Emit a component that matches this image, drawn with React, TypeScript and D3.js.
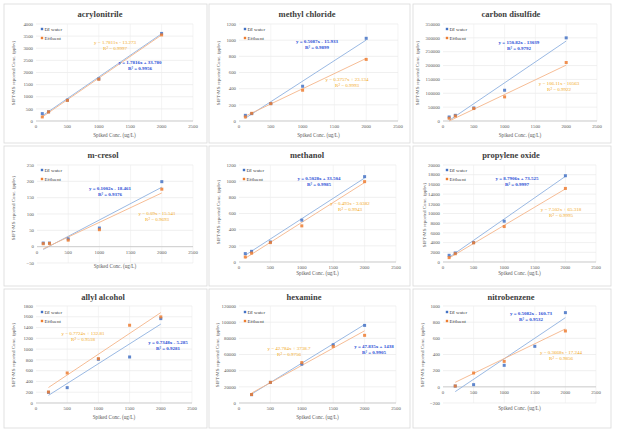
import React from "react";
import * as d3 from "d3";

// ---------- data ----------
const titles = ["acrylonitrile", "methyl chloride", "carbon disulfide", "m-cresol", "methanol", "propylene oxide", "allyl alcohol", "hexamine", "nitrobenzene"];
const seriesNames = ["DI water", "Effluent"];
const xTickValues = [0, 500, 1000, 1500, 2000, 2500];

const xSpikeA = [100, 200, 500, 1000, 2000];
const xSpikeB = [200, 500, 1000, 1500, 2000];
const xSpikeNitroEff = [200, 500, 1000, 2000];

const acryDI = [305, 380, 860, 1736, 3611];
const acryEff = [167, 375, 850, 1720, 3550];
const mechDI = [70, 91, 215, 430, 1023];
const mechEff = [50, 95, 215, 381, 762];
const csDI = [14500, 20500, 47000, 111000, 300000];
const csEff = [10000, 18000, 45000, 87000, 211000];
const cresDI = [11, 11, 24, 57, 199];
const cresEff = [9, 10, 20, 52, 176];
const methDI = [104, 132, 248, 518, 1056];
const methEff = [62, 110, 240, 447, 994];
const poDI = [1380, 1860, 4000, 8414, 17790];
const poEff = [900, 1700, 3950, 7310, 15170];
const allylDI = [198, 285, 811, 854, 1566];
const allylEff = [204, 557, 823, 1443, 1598];
const hexDI = [10300, 25500, 48000, 72000, 96000];
const hexEff = [10500, 25500, 50000, 70000, 83700];
const nitroDI = [10, 27, 266, 501, 918];
const nitroEff = [10, 171, 315, 691];

const slopesDI = [1.7816, 0.5087, 150.82, 0.1002, 0.5028, 8.7906, 0.7348, 47.835, 0.5082];
const interceptsDI = [33.78, -15.933, -13039, -18.461, 33.504, 73.525, -5.285, 1438, -160.73];
const slopesEff = [1.7811, 0.3757, 106.11, 0.09, 0.493, 7.502, 0.7724, 42.784, 0.3668];
const interceptsEff = [-13.273, 23.134, -10563, -15.541, -3.0382, 65.318, 132.81, 3738.7, -17.244];
const eqDI = ["y = 1.7816x + 33.780", "y = 0.5087x - 15.933", "y = 150.82x - 13039", "y = 0.1002x - 18.461", "y = 0.5028x + 33.504", "y = 8.7906x + 73.525", "y = 0.7348x - 5.285", "y = 47.835x + 1438", "y = 0.5082x - 160.73"];
const r2DI = ["R² = 0.9956", "R² = 0.9899", "R² = 0.9792", "R² = 0.9376", "R² = 0.9985", "R² = 0.9997", "R² = 0.9281", "R² = 0.9905", "R² = 0.9532"];
const eqEff = ["y = 1.7811x - 13.273", "y = 0.3757x + 23.134", "y = 106.11x - 10563", "y = 0.09x - 15.541", "y = 0.493x - 3.0382", "y = 7.502x + 65.318", "y = 0.7724x + 132.81", "y = 42.784x + 3738.7", "y = 0.3668x - 17.244"];
const r2Eff = ["R² = 0.9997", "R² = 0.9993", "R² = 0.9922", "R² = 0.9693", "R² = 0.9943", "R² = 0.9995", "R² = 0.9518", "R² = 0.9756", "R² = 0.9856"];

const yDomains: [number, number][] = [[0, 4000], [0, 1200], [0, 350000], [-50, 250], [0, 1200], [0, 20000], [0, 1800], [0, 120000], [-200, 1000]];
const ySteps = [500, 200, 50000, 50, 200, 2000, 200, 20000, 200];

const xsDI = [xSpikeA, xSpikeA, xSpikeA, xSpikeA, xSpikeA, xSpikeA, xSpikeB, xSpikeB, xSpikeB];
const xsEff = [xSpikeA, xSpikeA, xSpikeA, xSpikeA, xSpikeA, xSpikeA, xSpikeB, xSpikeB, xSpikeNitroEff];
const ysDI = [acryDI, mechDI, csDI, cresDI, methDI, poDI, allylDI, hexDI, nitroDI];
const ysEff = [acryEff, mechEff, csEff, cresEff, methEff, poEff, allylEff, hexEff, nitroEff];

// ---------- layout ----------
const plotRects = [
  [36, 193, 24, 121], [239, 398, 24, 121], [443, 597, 24, 121],
  [37, 193, 165, 263], [239, 396, 165, 262], [443, 596, 165, 262],
  [36, 192, 306, 403], [239, 396, 306, 403], [443, 596, 306, 403],
];
const boxes = [
  [4, 4, 203, 139], [209, 4, 201, 139], [413, 4, 198, 139],
  [4, 146, 203, 140], [209, 146, 201, 140], [413, 146, 198, 140],
  [4, 289, 203, 139], [209, 289, 201, 139], [413, 289, 198, 139],
];
const titlePos = [[100, 17], [307, 17], [511, 17], [103, 158], [307, 158], [511, 158], [103, 300], [304, 300], [511, 300]];
const xLabelY = [137, 137, 137, 268, 275, 275, 419, 419, 410];
const yLabelPos = [[15, 73], [220, 73], [419, 73], [15, 208], [220, 212], [426, 215], [15, 355], [219, 355], [424, 355]];
const legendPos = [[42, 29], [245, 29], [447, 29], [42, 170], [244, 170], [447, 170], [42, 312], [245, 312], [447, 312]];
const eqDIPos = [[140, 64], [317, 43], [519, 44], [110, 190], [319, 180], [517, 180], [168, 344], [374, 348], [531, 315]];
const eqEffPos = [[115, 44], [347, 81], [559, 85], [157, 215], [350, 205], [561, 211], [83, 335], [289, 350], [561, 354]];

const BLUE = "#4472C4";
const ORANGE = "#ED7D31";
const BLUE_LINE = "#8FB1E0";
const ORANGE_LINE = "#F5B58A";
const BLUE_TXT = "#2B4FD6";
const ORANGE_TXT = "#F2A71B";
const FONT = "'Liberation Serif', 'Times New Roman', serif";

function Panel({ i }: { i: number }) {
  const [x0, x1, yT, yB] = plotRects[i];
  const x = d3.scaleLinear().domain([0, 2500]).range([x0, x1]);
  const y = d3.scaleLinear().domain(yDomains[i]).range([yB, yT]);
  const yTicks = d3.range(yDomains[i][0], yDomains[i][1] + ySteps[i] / 2, ySteps[i]);
  const zeroY = y(0);
  const [bx, by, bw, bh] = boxes[i];
  const series = [
    { xs: xsDI[i], ys: ysDI[i], c: BLUE, lc: BLUE_LINE, m: slopesDI[i], b: interceptsDI[i] },
    { xs: xsEff[i], ys: ysEff[i], c: ORANGE, lc: ORANGE_LINE, m: slopesEff[i], b: interceptsEff[i] },
  ];
  const fmt = d3.format("d");
  return (
    <g>
      <rect x={bx} y={by} width={bw} height={bh} fill="#fff" stroke="#d9d9d9" strokeWidth={0.8} />
      {yTicks.map((t) => (
        <g key={"y" + t}>
          <line x1={x0} x2={x1} y1={y(t)} y2={y(t)} stroke="#e6e6e6" strokeWidth={0.6} />
          <text x={x0 - 3} y={y(t) + 1.7} fontSize={4.8} textAnchor="end" fill="#595959" fontFamily={FONT}>{fmt(t)}</text>
        </g>
      ))}
      {xTickValues.map((t) => (
        <g key={"x" + t}>
          {t > 0 && <line x1={x(t)} x2={x(t)} y1={yT} y2={yB} stroke="#ececec" strokeWidth={0.6} />}
          <text x={x(t)} y={zeroY + 7} fontSize={4.8} textAnchor="middle" fill="#595959" fontFamily={FONT}>{t}</text>
        </g>
      ))}
      <line x1={x0} x2={x1} y1={zeroY} y2={zeroY} stroke="#bfbfbf" strokeWidth={0.7} />
      {series.map((s, k) => {
        const xmin = d3.min(s.xs) as number;
        const xmax = d3.max(s.xs) as number;
        return (
          <line key={"t" + k} x1={x(xmin)} y1={y(s.m * xmin + s.b)} x2={x(xmax)} y2={y(s.m * xmax + s.b)} stroke={s.lc} strokeWidth={0.9} />
        );
      })}
      {series.map((s, k) =>
        s.xs.map((xv, j) => (
          <rect key={"p" + k + "-" + j} x={x(xv) - 1.5} y={y(s.ys[j]) - 1.5} width={3} height={3} fill={s.c} opacity={0.85} />
        ))
      )}
      <text x={titlePos[i][0]} y={titlePos[i][1]} fontSize={8.5} fontWeight="bold" textAnchor="middle" fill="#404040" fontFamily={FONT}>{titles[i]}</text>
      <text x={(x0 + x1) / 2} y={xLabelY[i]} fontSize={5.2} textAnchor="middle" fill="#595959" fontFamily={FONT}>Spiked Conc. (ug/L)</text>
      <text transform={`translate(${yLabelPos[i][0]},${yLabelPos[i][1]}) rotate(-90)`} fontSize={5} textAnchor="middle" fill="#595959" fontFamily={FONT}>SIFT-MS reported Conc. (ppbv)</text>
      {seriesNames.map((n, k) => (
        <g key={"l" + k}>
          <rect x={legendPos[i][0] - 1.2} y={legendPos[i][1] + k * 9 - 1.2} width={2.4} height={2.4} fill={k === 0 ? BLUE : ORANGE} />
          <text x={legendPos[i][0] + 2.5} y={legendPos[i][1] + k * 9 + 1.8} fontSize={5} fill="#404040" fontFamily={FONT}>{n}</text>
        </g>
      ))}
      <text x={eqDIPos[i][0]} y={eqDIPos[i][1]} fontSize={5} fontWeight="bold" textAnchor="middle" fill={BLUE_TXT} fontFamily={FONT}>
        <tspan x={eqDIPos[i][0]} dy={0}>{eqDI[i]}</tspan>
        <tspan x={eqDIPos[i][0]} dy={6}>{r2DI[i]}</tspan>
      </text>
      <text x={eqEffPos[i][0]} y={eqEffPos[i][1]} fontSize={5} textAnchor="middle" fill={ORANGE_TXT} fontFamily={FONT}>
        <tspan x={eqEffPos[i][0]} dy={0}>{eqEff[i]}</tspan>
        <tspan x={eqEffPos[i][0]} dy={6}>{r2Eff[i]}</tspan>
      </text>
    </g>
  );
}

export default function App() {
  return (
    <svg width={621} height={434} style={{ position: "absolute", left: 0, top: 0, background: "#fff" }}>
      <rect x={0} y={0} width={621} height={434} fill="#fff" />
      {titles.map((_, i) => (
        <Panel key={i} i={i} />
      ))}
    </svg>
  );
}
